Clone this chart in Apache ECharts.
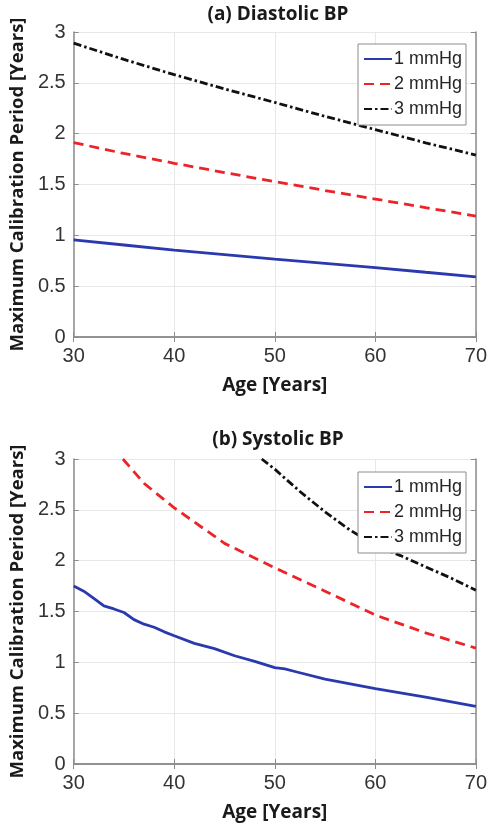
<!DOCTYPE html>
<html>
<head>
<meta charset="utf-8">
<script src="https://cdn.jsdelivr.net/npm/echarts@6/dist/echarts.min.js"></script>
<style>
html,body{margin:0;padding:0;background:#fff;}
#c{width:490px;height:830px;}
</style>
</head>
<body>
<div id="c"></div>
<script>
const seriesNames = ['1 mmHg', '2 mmHg', '3 mmHg'];
const xTicks = [30, 40, 50, 60, 70];
const yTicks = [0, 0.5, 1, 1.5, 2, 2.5, 3];

// (a) Diastolic BP
const diaAge = [30, 35, 40, 45, 50, 55, 60, 65, 70];
const dia1 = [0.955, 0.905, 0.855, 0.81, 0.765, 0.725, 0.683, 0.637, 0.592];
const dia2 = [1.912, 1.805, 1.709, 1.617, 1.528, 1.441, 1.357, 1.272, 1.19];
const dia3 = [2.89, 2.73, 2.58, 2.44, 2.307, 2.17, 2.04, 1.91, 1.79];

// (b) Systolic BP
const sys1Age = [30, 31, 32, 33, 34, 35, 36, 37, 38, 39, 40, 42, 44, 46, 48, 50, 51, 52, 55, 60, 65, 70];
const sys1 = [1.75, 1.70, 1.63, 1.555, 1.525, 1.49, 1.42, 1.375, 1.345, 1.30, 1.262, 1.187, 1.135, 1.065, 1.01, 0.948, 0.935, 0.91, 0.835, 0.742, 0.658, 0.567];
const sys2Age = [34.9, 37, 40, 45, 50, 55, 60, 65, 70];
const sys2 = [3.0, 2.76, 2.52, 2.17, 1.93, 1.70, 1.465, 1.29, 1.14];
const sys3Age = [48.7, 50, 52.5, 55, 57.5, 60, 62.5, 65, 67.5, 70];
const sys3 = [3.0, 2.90, 2.68, 2.48, 2.30, 2.15, 2.05, 1.94, 1.83, 1.71];

const zip = (xs, ys) => xs.map((x, i) => [x, ys[i]]);

const colors = ['#2a3aae', '#ec2329', '#111111'];
const lineTypes = ['solid', [10, 6], [8, 3, 2.5, 3]];

const FONT = 'Liberation Sans, Arial, sans-serif';
const BOLD = 'Open Sans, sans-serif';

const grids = [
  { left: 68, width: 410, top: 32, height: 305 },
  { left: 68, width: 410, top: 459, height: 305 }
];

const xAxes = [], yAxes = [];
grids.forEach((g, gi) => {
  xAxes.push({
    type: 'value', gridIndex: gi, min: 30, max: 70, interval: 10,
    name: 'Age [Years]', nameLocation: 'middle', nameGap: 39,
    nameTextStyle: { fontFamily: BOLD, fontWeight: 'bold', fontSize: 19, color: '#1a1a1a' },
    axisLine: { show: true, lineStyle: { color: '#8c8c8c', width: 1.5 } },
    axisTick: { show: true, inside: true, length: 5, lineStyle: { color: '#8c8c8c' } },
    axisLabel: { fontFamily: FONT, fontSize: 20, color: '#333333', margin: 9,
      formatter: v => xTicks.includes(v) ? String(v) : '' },
    splitLine: { show: true, lineStyle: { color: '#e8e8e8', width: 1 } }
  });
  xAxes.push({
    type: 'value', gridIndex: gi, min: 30, max: 70, interval: 10, position: 'top',
    axisLine: { show: true, lineStyle: { color: '#8c8c8c', width: 1.5 } },
    axisTick: { show: true, inside: true, length: 5, lineStyle: { color: '#8c8c8c' } },
    axisLabel: { show: false }, splitLine: { show: false }
  });
  yAxes.push({
    type: 'value', gridIndex: gi, min: 0, max: 3, interval: 0.5,
    name: 'Maximum Calibration Period [Years]', nameLocation: 'middle', nameGap: 44,
    nameTextStyle: { fontFamily: BOLD, fontWeight: 'bold', fontSize: 18.5, color: '#1a1a1a' },
    axisLine: { show: true, lineStyle: { color: '#8c8c8c', width: 1.5 } },
    axisTick: { show: true, inside: true, length: 5, lineStyle: { color: '#8c8c8c' } },
    axisLabel: { fontFamily: FONT, fontSize: 20, color: '#333333', margin: 8,
      formatter: v => yTicks.includes(v) ? String(v) : '' },
    splitLine: { show: true, lineStyle: { color: '#e8e8e8', width: 1 } }
  });
  yAxes.push({
    type: 'value', gridIndex: gi, min: 0, max: 3, interval: 0.5, position: 'right',
    axisLine: { show: true, lineStyle: { color: '#8c8c8c', width: 1.5 } },
    axisTick: { show: true, inside: true, length: 5, lineStyle: { color: '#8c8c8c' } },
    axisLabel: { show: false }, splitLine: { show: false }
  });
});

function mk(name, idx, data, gi) {
  return {
    type: 'line', name, data, xAxisIndex: gi * 2, yAxisIndex: gi * 2,
    showSymbol: false, symbol: 'none', smooth: false, clip: true,
    lineStyle: { color: colors[idx], width: 2.8, type: lineTypes[idx] },
    itemStyle: { color: colors[idx] }
  };
}

const series = [
  mk(seriesNames[0], 0, zip(diaAge, dia1), 0),
  mk(seriesNames[1], 1, zip(diaAge, dia2), 0),
  mk(seriesNames[2], 2, zip(diaAge, dia3), 0),
  mk(seriesNames[0], 0, zip(sys1Age, sys1), 1),
  mk(seriesNames[1], 1, zip(sys2Age, sys2), 1),
  mk(seriesNames[2], 2, zip(sys3Age, sys3), 1)
];

function legend(top) {
  return {
    data: seriesNames, orient: 'vertical', left: 358, top: top,
    backgroundColor: '#fff', borderColor: '#8c8c8c', borderWidth: 1,
    padding: [6, 4, 7, 5], itemGap: 7, itemWidth: 28, itemHeight: 14,
    itemStyle: { opacity: 0 },
    textStyle: { fontFamily: FONT, fontSize: 18, color: '#262626', padding: [0, 0, 0, -3] },
    selectedMode: false
  };
}

const option = {
  backgroundColor: '#fff',
  animation: false,
  title: [
    { text: '(a) Diastolic BP', left: 273, textAlign: 'center', top: 0,
      textStyle: { fontFamily: BOLD, fontWeight: 'bold', fontSize: 19, color: '#1a1a1a' } },
    { text: '(b) Systolic BP', left: 273, textAlign: 'center', top: 425,
      textStyle: { fontFamily: BOLD, fontWeight: 'bold', fontSize: 19, color: '#1a1a1a' } }
  ],
  grid: grids,
  xAxis: xAxes,
  yAxis: yAxes,
  legend: [legend(44), legend(472)],
  series
};

const chart = echarts.init(document.getElementById('c'), null, { renderer: 'canvas' });
chart.setOption(option);
</script>
</body>
</html>
